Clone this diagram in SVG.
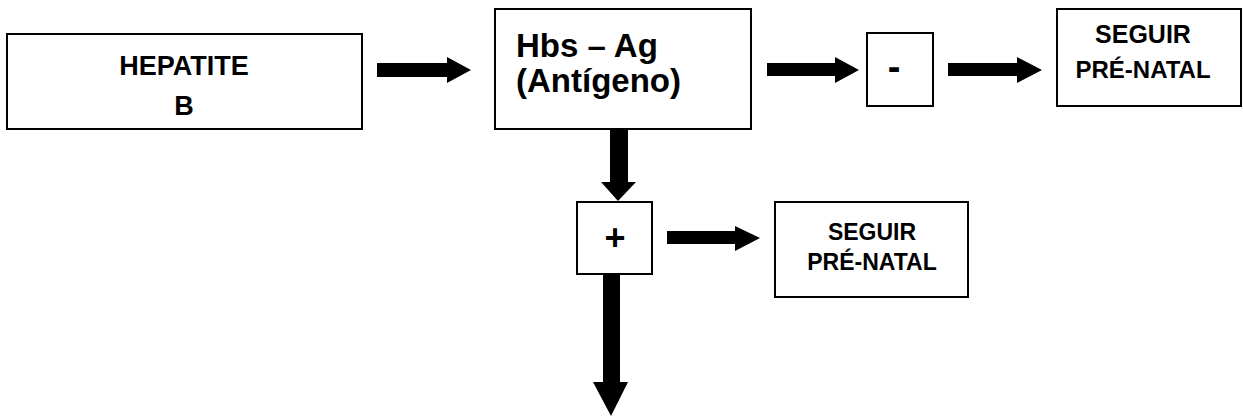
<svg xmlns="http://www.w3.org/2000/svg" width="1243" height="417" viewBox="0 0 1243 417">
  <style>
    .box { fill: #ffffff; stroke: #000000; stroke-width: 2; }
    .lbl { font-family: "Liberation Sans", Arial, sans-serif; font-weight: bold; fill: #000000; }
    .c { text-anchor: middle; }
    .arrow { fill: #000000; }
  </style>
  <rect width="1243" height="417" fill="#ffffff"/>

  <g id="hepatite-b">
    <rect class="box" x="7" y="34" width="355" height="95"/>
    <text class="lbl c" x="184" y="75" font-size="27">HEPATITE</text>
    <text class="lbl c" x="184" y="115" font-size="27">B</text>
  </g>

  <g id="hbs-ag">
    <rect class="box" x="495" y="9" width="256" height="120"/>
    <text class="lbl" x="516" y="57" font-size="33">Hbs – Ag</text>
    <text class="lbl" x="516" y="92" font-size="33">(Antígeno)</text>
  </g>

  <g id="negativo">
    <rect class="box" x="867" y="33" width="66" height="73"/>
    <text class="lbl c" x="894" y="80" font-size="38">-</text>
  </g>

  <g id="seguir-1">
    <rect class="box" x="1057" y="9" width="184" height="97"/>
    <text class="lbl c" x="1143" y="43" font-size="25">SEGUIR</text>
    <text class="lbl c" x="1143" y="78" font-size="24">PRÉ-NATAL</text>
  </g>

  <g id="positivo">
    <rect class="box" x="577" y="202" width="75" height="72"/>
    <text class="lbl c" x="615" y="250" font-size="36">+</text>
  </g>

  <g id="seguir-2">
    <rect class="box" x="775" y="202" width="193" height="95"/>
    <text class="lbl c" x="872" y="240" font-size="23">SEGUIR</text>
    <text class="lbl c" x="872" y="270" font-size="23">PRÉ-NATAL</text>
  </g>

  <g id="connectors">
    <!-- horizontal block arrows -->
    <polygon class="arrow" points="377,63 447,63 447,57 471,70 447,83 447,77 377,77"/>
    <polygon class="arrow" points="767,63 835,63 835,57 859,70 835,83 835,76 767,76"/>
    <polygon class="arrow" points="948,63 1017,63 1017,57 1042,70 1017,83 1017,76 948,76"/>
    <polygon class="arrow" points="667,231 735,231 735,226 760,238 735,251 735,244 667,244"/>
    <!-- vertical block arrows -->
    <polygon class="arrow" points="610,130 628,130 628,182 636,182 618,201 601,182 610,182"/>
    <polygon class="arrow" points="603,274 620,274 620,382 628,382 611,416 593,382 603,382"/>
  </g>
</svg>
